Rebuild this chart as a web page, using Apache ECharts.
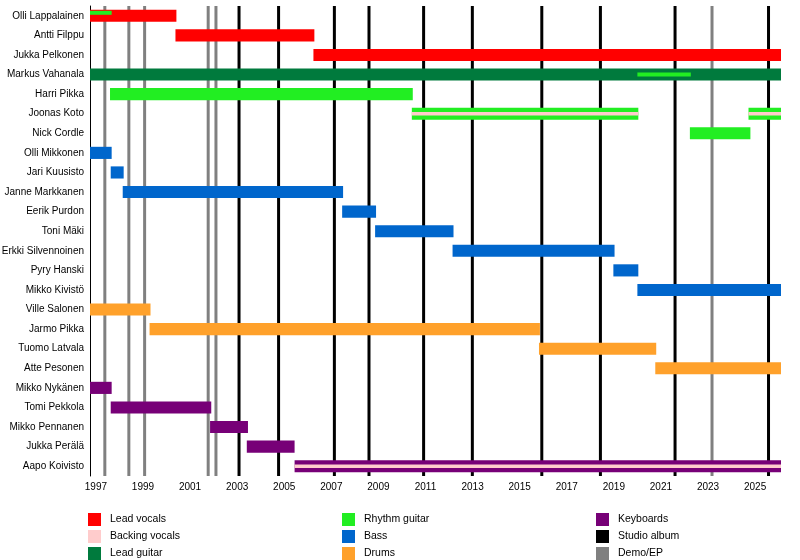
<!DOCTYPE html>
<html><head><meta charset="utf-8">
<script src="https://cdn.jsdelivr.net/npm/echarts@6/dist/echarts.min.js"></script>
<style>html,body{margin:0;padding:0;background:#fff}#c{width:800px;height:560px}</style>
</head><body><div id="c"></div>
<script>
const XMIN = 1996.75, XMAX = 2026.1;
const members = ["Olli Lappalainen","Antti Filppu","Jukka Pelkonen","Markus Vahanala","Harri Pikka","Joonas Koto","Nick Cordle","Olli Mikkonen","Jari Kuusisto","Janne Markkanen","Eerik Purdon","Toni Mäki","Erkki Silvennoinen","Pyry Hanski","Mikko Kivistö","Ville Salonen","Jarmo Pikka","Tuomo Latvala","Atte Pesonen","Mikko Nykänen","Tomi Pekkola","Mikko Pennanen","Jukka Perälä","Aapo Koivisto"];
// [member, start, end, thin]
const leadVocals = [["Olli Lappalainen",1996.75,2000.42,0],["Antti Filppu",2000.38,2006.28,0],["Jukka Pelkonen",2006.24,2026.1,0]];
const backingVocals = [["Joonas Koto",2010.42,2020.04,0],["Joonas Koto",2024.72,2026.1,0],["Aapo Koivisto",2005.44,2026.1,0]];
const leadGuitar = [["Markus Vahanala",1996.75,2026.1,0]];
const rhythmGuitar = [["Olli Lappalainen",1996.75,1997.67,2],["Markus Vahanala",2020.0,2022.27,1],["Harri Pikka",1997.6,2010.46,0],["Joonas Koto",2010.42,2020.04,0],["Joonas Koto",2024.72,2026.1,0],["Nick Cordle",2022.23,2024.8,0]];
const bass = [["Olli Mikkonen",1996.75,1997.67,0],["Jari Kuusisto",1997.63,1998.18,0],["Janne Markkanen",1998.14,2007.5,0],["Eerik Purdon",2007.46,2008.9,0],["Toni Mäki",2008.86,2012.19,0],["Erkki Silvennoinen",2012.15,2019.03,0],["Pyry Hanski",2018.98,2020.04,0],["Mikko Kivistö",2020.0,2026.1,0]];
const drums = [["Ville Salonen",1996.75,1999.32,0],["Jarmo Pikka",1999.28,2015.86,0],["Tuomo Latvala",2015.82,2020.8,0],["Atte Pesonen",2020.76,2026.1,0]];
const keyboards = [["Mikko Nykänen",1996.75,1997.67,0],["Tomi Pekkola",1997.63,2001.9,0],["Mikko Pennanen",2001.85,2003.46,0],["Jukka Perälä",2003.41,2005.44,0],["Aapo Koivisto",2005.44,2026.1,0]];
const studioAlbums = [2003.08,2004.76,2007.13,2008.6,2010.92,2012.99,2015.94,2018.43,2021.6,2025.57];
const demos = [1997.38,1998.4,1999.07,2001.77,2002.1,2023.17];
const labelYears = [1997,1999,2001,2003,2005,2007,2009,2011,2013,2015,2017,2019,2021,2023,2025];
const allYears = [1997,1998,1999,2000,2001,2002,2003,2004,2005,2006,2007,2008,2009,2010,2011,2012,2013,2014,2015,2016,2017,2018,2019,2020,2021,2022,2023,2024,2025,2026];

function barSeries(name, color, arr, z, stripe){
  return {name, type:'custom', z, itemStyle:{color},
    data: arr.map(d=>[members.indexOf(d[0]), d[1], d[2], d[3]]),
    encode:{x:[1,2], y:0},
    renderItem(params, api){
      const row = api.value(0), s = api.value(1), e = api.value(2), thin = api.value(3);
      const p1 = api.coord([s,row]), p2 = api.coord([e,row]);
      const band = api.size([0,1])[1];
      let h = band*0.62, cy = p1[1];
      if (stripe) h = 3.5;
      else if (thin===1) h = 4;
      else if (thin===2){ h = 4; cy = p1[1]-3; }
      return {type:'rect', shape:{x:p1[0], y:cy-h/2, width:p2[0]-p1[0], height:h}, style:{fill:color}};
    }};
}
function lineSeries(name, color, arr){
  return {name, type:'custom', z:1, itemStyle:{color},
    data: arr.map(v=>[v]), encode:{x:0},
    renderItem(params, api){
      const x = api.coord([api.value(0), 0])[0];
      const cs = params.coordSys;
      return {type:'line', shape:{x1:x,y1:cs.y,x2:x,y2:cs.y+cs.height}, style:{stroke:color, lineWidth:3}};
    }};
}
const font = 'Liberation Sans';
const legendBase = {orient:'vertical', padding:0, itemWidth:13, itemHeight:13, itemGap:4, icon:'rect', height:60, textStyle:{fontFamily:font, fontSize:10.5, color:'#000', padding:[0,0,0,4]}};
const chart = echarts.init(document.getElementById('c'));
chart.setOption({
  animation:false,
  grid:{left:90, right:19, top:6, height:470, outerBoundsMode:'none'},
  xAxis:[{type:'value', min:XMIN, max:XMAX, splitLine:{show:false},
    axisLine:{lineStyle:{color:'#000'}},
    axisTick:{customValues:labelYears, length:5, lineStyle:{color:'#000'}},
    axisLabel:{customValues:labelYears, formatter:v=>String(Math.round(v)), fontFamily:font, fontSize:10, color:'#000', margin:6}},
   {type:'value', min:XMIN, max:XMAX, position:'bottom', splitLine:{show:false},
    axisLine:{show:false}, axisLabel:{show:false},
    axisTick:{customValues:allYears, length:3, lineStyle:{color:'#000'}}}],
  yAxis:{type:'category', data:members, inverse:true, axisTick:{show:false},
    axisLine:{lineStyle:{color:'#000'}},
    axisLabel:{fontFamily:font, fontSize:10, color:'#000', margin:6}},
  legend:[
    Object.assign({left:88, top:513, data:['Lead vocals','Backing vocals','Lead guitar']}, legendBase),
    Object.assign({left:342, top:513, data:['Rhythm guitar','Bass','Drums']}, legendBase),
    Object.assign({left:596, top:513, data:['Keyboards','Studio album','Demo/EP']}, legendBase)],
  series:[
    lineSeries('Studio album','#000000',studioAlbums),
    lineSeries('Demo/EP','#808080',demos),
    barSeries('Lead vocals','#ff0000',leadVocals,3),
    barSeries('Lead guitar','#007a3d',leadGuitar,3),
    barSeries('Bass','#0066cc',bass,3),
    barSeries('Drums','#ffa12b',drums,3),
    barSeries('Keyboards','#770077',keyboards,3),
    barSeries('Rhythm guitar','#22ee22',rhythmGuitar,4),
    barSeries('Backing vocals','#ffcccc',backingVocals,5,true)
  ]
});
</script></body></html>
